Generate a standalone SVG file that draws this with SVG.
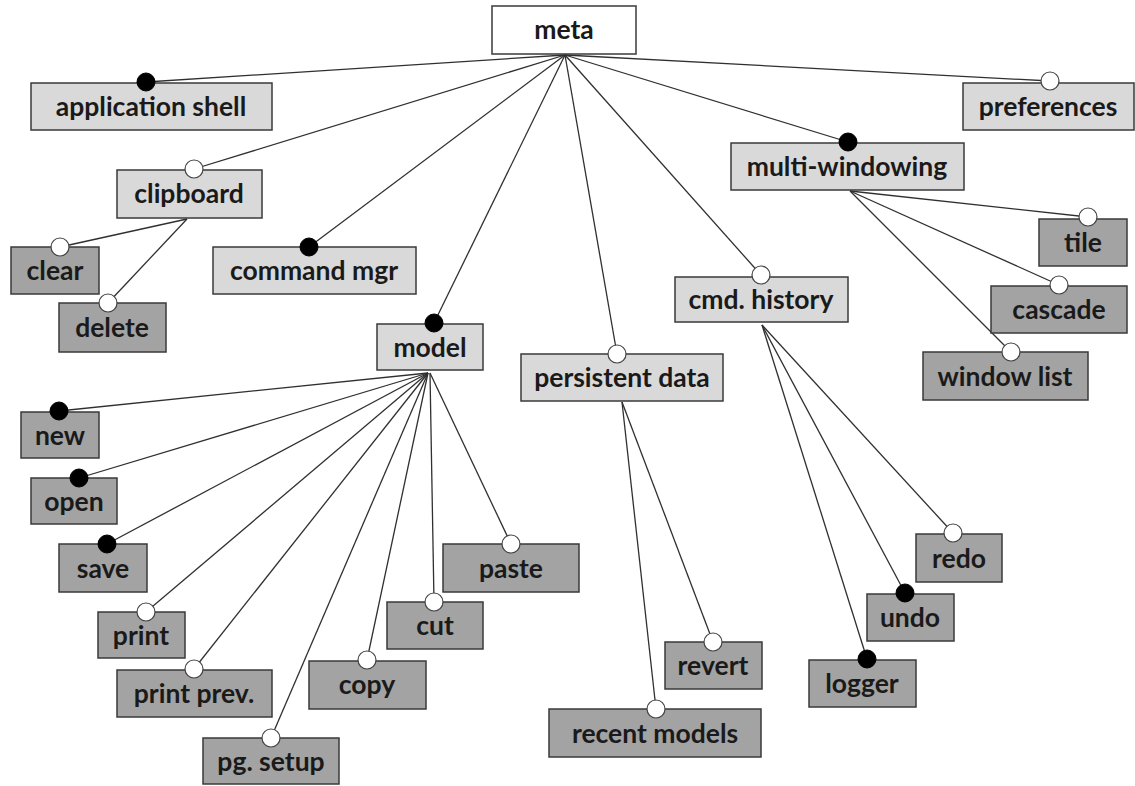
<svg xmlns="http://www.w3.org/2000/svg" width="1135" height="786" viewBox="0 0 1135 786">
<defs>
<style>
.box{stroke:#3a3a3a;stroke-width:1.5}
.lt{fill:#d9d9d9}
.dk{fill:#a3a3a3}
.wh{fill:#ffffff}
.t{font-family:Lato,"Open Sans","Liberation Sans",sans-serif;font-weight:bold;font-size:26.5px;fill:#1a1a1a;text-anchor:middle}
.ln{stroke:#303030;stroke-width:1.3;fill:none}
.on{fill:#000;stroke:#000;stroke-width:1}
.off{fill:#fff;stroke:#444;stroke-width:1.2}
</style>
</defs>
<rect width="1135" height="786" fill="#fff"/>
<g id="connectors">
<line class="ln" x1="565" y1="55" x2="146" y2="82"/>
<line class="ln" x1="565" y1="55" x2="194" y2="169"/>
<line class="ln" x1="565" y1="55" x2="309" y2="247"/>
<line class="ln" x1="565" y1="55" x2="434" y2="323"/>
<line class="ln" x1="565" y1="55" x2="617" y2="354"/>
<line class="ln" x1="565" y1="55" x2="761" y2="275"/>
<line class="ln" x1="565" y1="55" x2="848" y2="142"/>
<line class="ln" x1="565" y1="55" x2="1050" y2="81"/>
<line class="ln" x1="187" y1="219" x2="60" y2="247"/>
<line class="ln" x1="187" y1="219" x2="108" y2="303"/>
<line class="ln" x1="428" y1="373" x2="59" y2="411"/>
<line class="ln" x1="428" y1="373" x2="79" y2="478"/>
<line class="ln" x1="428" y1="373" x2="107" y2="544"/>
<line class="ln" x1="428" y1="373" x2="146" y2="612"/>
<line class="ln" x1="428" y1="373" x2="194" y2="669"/>
<line class="ln" x1="428" y1="373" x2="271" y2="738"/>
<line class="ln" x1="428" y1="373" x2="367" y2="660"/>
<line class="ln" x1="430" y1="373" x2="434" y2="602"/>
<line class="ln" x1="430" y1="373" x2="511" y2="544"/>
<line class="ln" x1="622" y1="402" x2="713" y2="642"/>
<line class="ln" x1="622" y1="402" x2="656" y2="709"/>
<line class="ln" x1="762" y1="325" x2="953" y2="533"/>
<line class="ln" x1="762" y1="325" x2="905" y2="593"/>
<line class="ln" x1="762" y1="325" x2="867" y2="659"/>
<line class="ln" x1="850" y1="191" x2="1088" y2="217"/>
<line class="ln" x1="850" y1="191" x2="1059" y2="285"/>
<line class="ln" x1="850" y1="191" x2="1011" y2="352"/>
</g>
<g id="meta"><rect class="box wh" x="492" y="6" width="144" height="48"/><text class="t" x="564" y="39">meta</text></g>
<g id="application-shell"><rect class="box lt" x="31" y="83" width="241" height="47"/><text class="t" x="151" y="116">application shell</text><circle class="on" cx="146" cy="82" r="9"/></g>
<g id="preferences"><rect class="box lt" x="963" y="83" width="171" height="47"/><text class="t" x="1048" y="116">preferences</text><circle class="off" cx="1050" cy="81" r="9"/></g>
<g id="clipboard"><rect class="box lt" x="117" y="170" width="145" height="48"/><text class="t" x="189" y="203">clipboard</text><circle class="off" cx="194" cy="169" r="9"/></g>
<g id="multi-windowing"><rect class="box lt" x="731" y="143" width="233" height="47"/><text class="t" x="847" y="176">multi-windowing</text><circle class="on" cx="848" cy="142" r="9"/></g>
<g id="clear"><rect class="box dk" x="11" y="247" width="88" height="47"/><text class="t" x="55" y="280">clear</text><circle class="off" cx="60" cy="247" r="9"/></g>
<g id="delete"><rect class="box dk" x="59" y="303" width="107" height="49"/><text class="t" x="112" y="337">delete</text><circle class="off" cx="108" cy="303" r="9"/></g>
<g id="command-mgr"><rect class="box lt" x="213" y="247" width="203" height="47"/><text class="t" x="314" y="280">command mgr</text><circle class="on" cx="309" cy="247" r="9"/></g>
<g id="tile"><rect class="box dk" x="1039" y="219" width="88" height="47"/><text class="t" x="1083" y="252">tile</text><circle class="off" cx="1088" cy="217" r="9"/></g>
<g id="cmd-history"><rect class="box lt" x="675" y="277" width="173" height="45"/><text class="t" x="761" y="309">cmd. history</text><circle class="off" cx="761" cy="275" r="9"/></g>
<g id="cascade"><rect class="box dk" x="991" y="286" width="136" height="47"/><text class="t" x="1059" y="319">cascade</text><circle class="off" cx="1059" cy="285" r="9"/></g>
<g id="model"><rect class="box lt" x="377" y="324" width="106" height="46"/><text class="t" x="430" y="357">model</text><circle class="on" cx="434" cy="323" r="9"/></g>
<g id="persistent-data"><rect class="box lt" x="521" y="354" width="202" height="47"/><text class="t" x="622" y="387">persistent data</text><circle class="off" cx="617" cy="354" r="9"/></g>
<g id="window-list"><rect class="box dk" x="923" y="352" width="165" height="48"/><text class="t" x="1005" y="386">window list</text><circle class="off" cx="1011" cy="352" r="9"/></g>
<g id="new"><rect class="box dk" x="21" y="412" width="78" height="46"/><text class="t" x="60" y="445">new</text><circle class="on" cx="59" cy="411" r="9"/></g>
<g id="open"><rect class="box dk" x="31" y="478" width="86" height="46"/><text class="t" x="74" y="511">open</text><circle class="on" cx="79" cy="478" r="9"/></g>
<g id="save"><rect class="box dk" x="59" y="544" width="88" height="48"/><text class="t" x="103" y="578">save</text><circle class="on" cx="107" cy="544" r="9"/></g>
<g id="paste"><rect class="box dk" x="443" y="544" width="136" height="48"/><text class="t" x="511" y="578">paste</text><circle class="off" cx="511" cy="544" r="9"/></g>
<g id="redo"><rect class="box dk" x="916" y="534" width="86" height="48"/><text class="t" x="959" y="568">redo</text><circle class="off" cx="953" cy="533" r="9"/></g>
<g id="undo"><rect class="box dk" x="867" y="594" width="87" height="47"/><text class="t" x="910" y="627">undo</text><circle class="on" cx="905" cy="593" r="9"/></g>
<g id="cut"><rect class="box dk" x="387" y="602" width="96" height="47"/><text class="t" x="435" y="635">cut</text><circle class="off" cx="434" cy="602" r="9"/></g>
<g id="print"><rect class="box dk" x="98" y="612" width="87" height="46"/><text class="t" x="141" y="645">print</text><circle class="off" cx="146" cy="612" r="9"/></g>
<g id="revert"><rect class="box dk" x="665" y="642" width="97" height="47"/><text class="t" x="713" y="675">revert</text><circle class="off" cx="713" cy="642" r="9"/></g>
<g id="logger"><rect class="box dk" x="809" y="660" width="107" height="47"/><text class="t" x="862" y="693">logger</text><circle class="on" cx="867" cy="659" r="9"/></g>
<g id="copy"><rect class="box dk" x="309" y="661" width="117" height="48"/><text class="t" x="367" y="694">copy</text><circle class="off" cx="367" cy="660" r="9"/></g>
<g id="print-prev"><rect class="box dk" x="117" y="670" width="155" height="47"/><text class="t" x="194" y="703">print prev.</text><circle class="off" cx="194" cy="669" r="9"/></g>
<g id="recent-models"><rect class="box dk" x="549" y="709" width="212" height="48"/><text class="t" x="655" y="743">recent models</text><circle class="off" cx="656" cy="709" r="9"/></g>
<g id="pg-setup"><rect class="box dk" x="203" y="738" width="136" height="46"/><text class="t" x="271" y="771">pg. setup</text><circle class="off" cx="271" cy="738" r="9"/></g>
</svg>
